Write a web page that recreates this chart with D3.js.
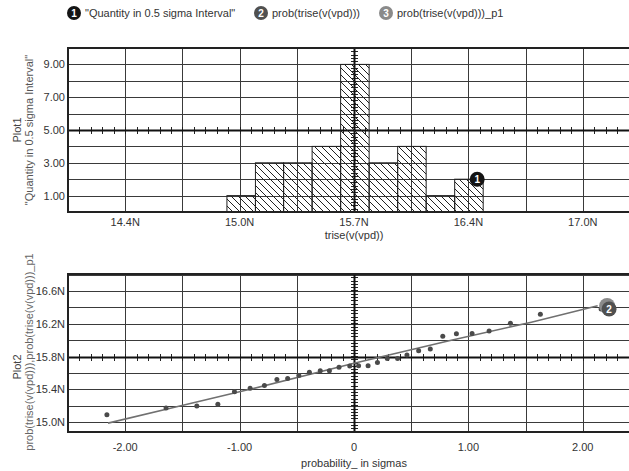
<!DOCTYPE html>
<html>
<head>
<meta charset="utf-8">
<script src="https://cdn.jsdelivr.net/npm/d3@7"></script>
<style>
  body { margin: 0; background: #fff; }
  text { font-family: "Liberation Sans", Arial, sans-serif; font-size: 11px; fill: #333; }
</style>
</head>
<body>
<script>
// - Data -

// histogram: bin edges (N) and counts per 0.5 sigma interval
const binEdges = [14.978, 15.14, 15.30, 15.462, 15.624, 15.786, 15.948, 16.11, 16.272, 16.434];
const binCounts = [1, 3, 3, 4, 9, 3, 4, 1, 2];

// probability plot: sorted samples vs sigma
const sigmaVals = [-2.16, -1.643, -1.374, -1.19, -1.045, -0.908, -0.783, -0.674, -0.58, -0.482,
                   -0.39, -0.295, -0.215, -0.131, -0.037, 0.04, 0.123, 0.205, 0.291, 0.381,
                   0.463, 0.565, 0.667, 0.776, 0.895, 1.032, 1.181, 1.367, 1.629, 2.16];
const triseVals = [15.093, 15.175, 15.199, 15.22, 15.373, 15.415, 15.449, 15.522, 15.534, 15.571,
                   15.61, 15.629, 15.629, 15.671, 15.687, 15.689, 15.69, 15.729, 15.778, 15.778,
                   15.821, 15.873, 15.894, 16.049, 16.08, 16.083, 16.113, 16.207, 16.317, 16.381];

// fitted line (_p1)
const fitSigma = [-2.15, -1.55, -0.9, 0, 0.85, 1.55, 2.13];
const fitTrise = [14.99, 15.19, 15.405, 15.72, 16.0, 16.22, 16.42];

// ticks
const histXTicks = [14.4, 15.05, 15.7, 16.35, 17.0];
const histXLabels = ["14.4N", "15.0N", "15.7N", "16.4N", "17.0N"];
const histYTicks = [1, 3, 5, 7, 9];
const histYLabels = ["1.00", "3.00", "5.00", "7.00", "9.00"];
const probXTicks = [-2, -1, 0, 1, 2];
const probXLabels = ["-2.00", "-1.00", "0", "1.00", "2.00"];
const probYTicks = [15.0, 15.4, 15.8, 16.2, 16.6];
const probYLabels = ["15.0N", "15.4N", "15.8N", "16.2N", "16.6N"];

const legendNames = ["\"Quantity in 0.5 sigma Interval\"", "prob(trise(v(vpd)))", "prob(trise(v(vpd)))_p1"];
const markerColors = ["#141414", "#505050", "#8a8a8a"];

// - Chart size -

const w = 629, h = 471;
const left = 68, right = 640;

const svg = d3.select("body").append("svg")
  .attr("width", w)
  .attr("height", h);

const defs = svg.append("defs");
const hatch = defs.append("pattern")
  .attr("id", "hatch")
  .attr("patternUnits", "userSpaceOnUse")
  .attr("width", 7)
  .attr("height", 7);
hatch.append("path")
  .attr("d", "M0,0 L7,7 M-1,6 L1,8 M6,-1 L8,1")
  .attr("stroke", "#222")
  .attr("stroke-width", 1);

// - Scales -

const xHist = d3.scaleLinear().domain([14.075, 17.325]).range([left, right]);
const yHist = d3.scaleLinear().domain([0, 10]).range([212, 48]);
const xProb = d3.scaleLinear().domain([-2.5, 2.5]).range([left, right]);
const yProb = d3.scaleLinear().domain([14.882, 16.807]).range([432, 274]);

// draws grid, frame, crossing axes with minor ticks
function drawFrame(x, y, xGrid, yGrid, xCross, yCross) {
  const g = svg.append("g");
  const [x0, x1] = x.range(), [y0, y1] = y.range();

  g.selectAll(".vg").data(xGrid).enter().append("line")
    .attr("x1", d => Math.round(x(d)) + 0.5).attr("x2", d => Math.round(x(d)) + 0.5)
    .attr("y1", y1).attr("y2", y0)
    .attr("stroke", "#3a3a3a").attr("stroke-width", 1);
  g.selectAll(".hg").data(yGrid).enter().append("line")
    .attr("x1", x0).attr("x2", x1)
    .attr("y1", d => Math.round(y(d)) + 0.5).attr("y2", d => Math.round(y(d)) + 0.5)
    .attr("stroke", "#3a3a3a").attr("stroke-width", 1);

  // minor ticks along crossing axes
  const sx = (x(xGrid[1]) - x(xGrid[0])) / 5;
  const sy = (y(yGrid[0]) - y(yGrid[1])) / 5;
  const cx = Math.round(x(xCross)), cy = Math.round(y(yCross));
  const hx = d3.range(x0, x1, sx);
  const vy = d3.range(y1, y0, sy);
  g.selectAll(".mt").data(hx).enter().append("line")
    .attr("x1", d => Math.round(d) + 0.5).attr("x2", d => Math.round(d) + 0.5)
    .attr("y1", cy - 3).attr("y2", cy + 4)
    .attr("stroke", "#222");
  g.selectAll(".mv").data(vy).enter().append("line")
    .attr("x1", cx - 3).attr("x2", cx + 4)
    .attr("y1", d => Math.round(d) + 0.5).attr("y2", d => Math.round(d) + 0.5)
    .attr("stroke", "#222");

  g.append("line").attr("x1", x0).attr("x2", x1).attr("y1", cy + 0.5).attr("y2", cy + 0.5)
    .attr("stroke", "#111").attr("stroke-width", 2);
  g.append("line").attr("x1", cx + 0.5).attr("x2", cx + 0.5).attr("y1", y1).attr("y2", y0)
    .attr("stroke", "#111").attr("stroke-width", 2);

  g.append("rect")
    .attr("x", x0).attr("y", y1)
    .attr("width", x1 - x0).attr("height", y0 - y1)
    .attr("fill", "none").attr("stroke", "#222").attr("stroke-width", 2);
  return g;
}

function tickLabels(x, y, xt, xl, yt, yl, xOff) {
  svg.append("g").selectAll("text").data(xt).enter().append("text")
    .attr("x", d => x(d)).attr("y", y.range()[0] + xOff)
    .attr("text-anchor", "middle")
    .text((d, i) => xl[i]);
  svg.append("g").selectAll("text").data(yt).enter().append("text")
    .attr("x", left - 3).attr("y", d => y(d) + 4)
    .attr("text-anchor", "end")
    .text((d, i) => yl[i]);
}

function marker(g, cx, cy, r, i) {
  g.append("circle").attr("cx", cx).attr("cy", cy).attr("r", r).attr("fill", markerColors[i]);
  g.append("text").attr("x", cx).attr("y", cy + 4)
    .attr("text-anchor", "middle")
    .style("fill", "#fff").style("font-size", "10px").style("font-weight", "bold")
    .text(i + 1);
}

// - Plot 1: histogram -

drawFrame(xHist, yHist,
  d3.range(0, 11).map(k => 14.075 + k * 0.325),
  d3.range(1, 10),
  15.7, 5);

svg.append("g").selectAll("rect")
  .data(binCounts)
  .enter().append("rect")
  .attr("x", (d, i) => xHist(binEdges[i]))
  .attr("y", d => yHist(d))
  .attr("width", (d, i) => xHist(binEdges[i + 1]) - xHist(binEdges[i]))
  .attr("height", d => yHist(0) - yHist(d))
  .attr("fill", "url(#hatch)")
  .attr("stroke", "#222")
  .attr("stroke-width", 1);

tickLabels(xHist, yHist, histXTicks, histXLabels, histYTicks, histYLabels, 14);

svg.append("text").attr("x", xHist(15.7)).attr("y", 239)
  .attr("text-anchor", "middle").text("trise(v(vpd))");

marker(svg.append("g"), xHist(binEdges[9]) - 6, yHist(binCounts[8]), 7.5, 0);

// - Plot 2: probability plot -

drawFrame(xProb, yProb,
  d3.range(-5, 6).map(k => k * 0.5),
  d3.range(0, 10).map(k => 15.0 + k * 0.2),
  0, 15.8);

const line = d3.line().x(d => xProb(d[0])).y(d => yProb(d[1]));
svg.append("path")
  .datum(fitSigma.map((s, i) => [s, fitTrise[i]]))
  .attr("d", line)
  .attr("fill", "none")
  .attr("stroke", "#707070")
  .attr("stroke-width", 1.6);

svg.append("g").selectAll("circle")
  .data(sigmaVals)
  .enter().append("circle")
  .attr("cx", d => xProb(d))
  .attr("cy", (d, i) => yProb(triseVals[i]))
  .attr("r", 2.5)
  .attr("fill", "#4a4a4a");

tickLabels(xProb, yProb, probXTicks, probXLabels, probYTicks, probYLabels, 19);

svg.append("text").attr("x", xProb(0)).attr("y", 467)
  .attr("text-anchor", "middle").text("probability_ in sigmas");

const lastX = xProb(sigmaVals[29]), lastY = yProb(triseVals[29]);
const mk = svg.append("g");
mk.append("circle").attr("cx", lastX + 6).attr("cy", lastY - 3).attr("r", 8).attr("fill", markerColors[2]);
marker(mk, lastX + 8, lastY, 7.5, 1);

// - Axis titles -

function yTitle(x, cy, txt, color) {
  svg.append("text")
    .attr("transform", "translate(" + x + "," + cy + ") rotate(-90)")
    .attr("text-anchor", "middle")
    .style("fill", color)
    .text(txt);
}
yTitle(21, 130, "Plot1", "#444");
yTitle(33, 130, legendNames[0], "#555");
yTitle(21, 367, "Plot2", "#444");
yTitle(33, 352, legendNames[1] + "," + legendNames[2], "#666");

// - Legend -

const legX = [74, 261, 386];
const legend = svg.append("g");
legendNames.forEach((n, i) => {
  marker(legend, legX[i], 13, 7, i);
  legend.append("text").attr("x", legX[i] + 11).attr("y", 17).text(n);
});
</script>
</body>
</html>
